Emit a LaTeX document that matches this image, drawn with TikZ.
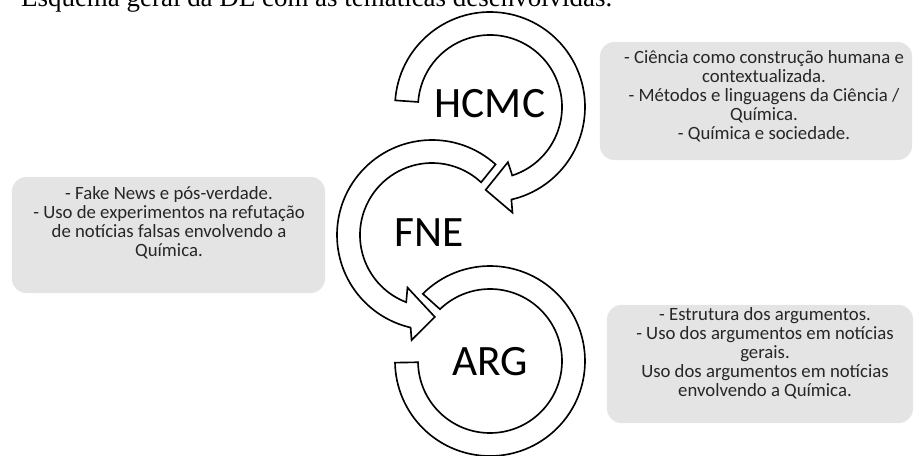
\documentclass[tikz,border=0pt]{standalone}
\usepackage{fontspec}
\setmainfont{Liberation Serif}
\newfontfamily\calibri{Carlito}
\usepackage{tikz}
\definecolor{boxgray}{HTML}{E4E4E4}
\definecolor{textgray}{HTML}{262626}

\begin{document}
\begin{tikzpicture}[x=0.03cm, y=-0.03cm,
    ring/.style={draw=black, fill=white, line width=1.4pt, line join=miter},
    note/.style={fill=boxgray, rounded corners=12pt, inner sep=0pt},
    notetext/.style={font=\calibri\fontsize{16}{16.3}\selectfont, align=center, text=textgray, inner sep=0pt},
    tag/.style={font=\calibri\fontsize{37}{40}\selectfont, inner sep=0pt}]
    \useasboundingbox (0,0) rectangle (915,456);
    \clip (0,0) rectangle (915,456);

    \node[anchor=base west, font=\fontsize{23}{25}\selectfont] (caption) at (17,7)
        {Esquema geral da DE com as temáticas desenvolvidas.};

    \begin{scope}[shift={(490,107)}]
        \draw[ring] (184:95) arc[start angle=184, end angle=437, radius=95]
            -- (438:108) -- (453:83) -- (432:58) -- (432:72)
            arc[start angle=432, end angle=184, radius=72] -- cycle;
    \end{scope}
    \begin{scope}[shift={(432,235)}]
        \draw[ring] (312:95) arc[start angle=312, end angle=103, radius=95]
            -- (101:107) -- (88:82) -- (115:58) -- (111:72)
            arc[start angle=111, end angle=313, radius=72] -- cycle;
    \end{scope}
    \begin{scope}[shift={(490,361)}]
        \draw[ring] (225:95) arc[start angle=225, end angle=539, radius=95]
            -- (539:72) arc[start angle=539, end angle=226, radius=72] -- cycle;
    \end{scope}

    \node[tag] (hcmc) at (490,104) {HCMC};
    \node[tag] (fne) at (429,233) {FNE};
    \node[tag] (arg) at (490,362) {ARG};

    \node[note, minimum width=9.36cm, minimum height=3.54cm] (hcmc box) at (756,101) {};
    \node[notetext] (hcmc text) at (764,96) {- Ciência como construção humana e\\contextualizada.\\- Métodos e linguagens da Ciência /\\Química.\\- Química e sociedade.};

    \node[note, minimum width=9.39cm, minimum height=3.48cm] (fne box) at (168.5,235) {};
    \node[notetext] (fne text) at (169,223) {- Fake News e pós-verdade.\\- Uso de experimentos na refutação\\de notícias falsas envolvendo a\\Química.};

    \node[note, minimum width=9.18cm, minimum height=3.54cm] (arg box) at (760,364) {};
    \node[notetext] (arg text) at (765,353) {- Estrutura dos argumentos.\\- Uso dos argumentos em notícias\\gerais.\\Uso dos argumentos em notícias\\envolvendo a Química.};
\end{tikzpicture}
\end{document}
